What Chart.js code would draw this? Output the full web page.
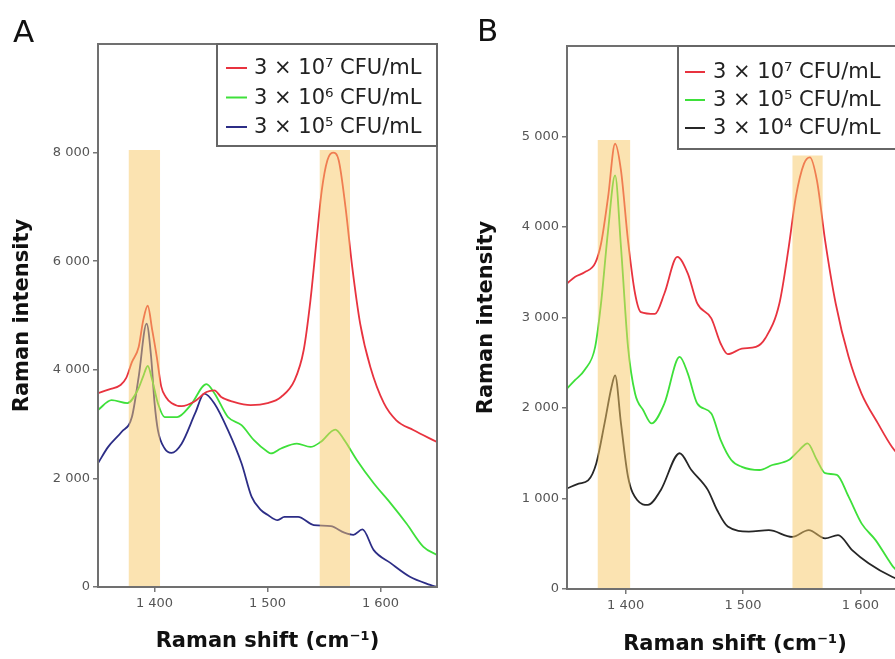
<!DOCTYPE html>
<html><head><meta charset="utf-8">
<script src="https://cdn.jsdelivr.net/npm/chart.js@4/dist/chart.umd.min.js"></script>
<style>
html,body{margin:0;padding:0;background:#fff;overflow:hidden;width:895px;height:659px;position:relative;}
#ca{position:absolute;left:0;top:0;width:445px;height:659px;}
#cb{position:absolute;left:445px;top:0;width:482px;height:659px;}
</style></head><body>
<canvas id="ca" width="445" height="659"></canvas>
<canvas id="cb" width="482" height="659"></canvas>
<script>
// ---------- data ----------
const shiftMin = 1350, shiftMax = 1650;
const xTicks = [1400, 1500, 1600];
const yTicksA = [0, 2000, 4000, 6000, 8000];
const yTicksB = [0, 1000, 2000, 3000, 4000, 5000];
const yMaxA = 10000, yMaxB = 6000;

const labelsA = ['3 × 10⁷ CFU/mL', '3 × 10⁶ CFU/mL', '3 × 10⁵ CFU/mL'];
const labelsB = ['3 × 10⁷ CFU/mL', '3 × 10⁵ CFU/mL', '3 × 10⁴ CFU/mL'];

// Panel A
const shiftA7 = [1350,1360,1370,1375,1380,1386,1390,1394,1398,1402,1406,1410,1415,1424,1435,1446,1453,1459,1470,1485,1500,1512,1524,1532,1538,1544,1548,1553,1558,1563,1569,1575,1582,1591,1603,1614,1629,1650];
const intA7   = [3570,3640,3720,3850,4140,4420,4910,5180,4730,4240,3690,3500,3390,3330,3410,3590,3620,3500,3410,3350,3385,3500,3810,4360,5280,6510,7300,7860,8000,7860,7000,5890,4850,4050,3385,3070,2890,2670];
const shiftA6 = [1350,1362,1376,1385,1390,1394,1398,1403,1409,1420,1432,1446,1453,1465,1477,1488,1500,1503,1512,1526,1538,1547,1560,1568,1579,1594,1609,1623,1638,1650];
const intA6   = [3260,3440,3385,3620,3880,4070,3810,3385,3130,3130,3350,3735,3570,3130,2980,2705,2490,2460,2550,2640,2580,2670,2900,2705,2340,1910,1540,1170,740,590];
const shiftA5 = [1350,1359,1371,1380,1386,1393,1397,1400,1403,1409,1415,1424,1436,1444,1453,1465,1477,1486,1494,1500,1509,1515,1527,1541,1556,1568,1576,1584,1594,1609,1626,1644,1650];
const intA5   = [2280,2580,2860,3130,3870,4850,4240,3400,2890,2550,2470,2640,3200,3560,3380,2890,2280,1660,1420,1330,1230,1290,1290,1140,1120,1000,960,1060,680,440,190,40,0];

// Panel B
const shiftB7 = [1350,1357,1365,1374,1379,1385,1391,1396,1402,1408,1413,1425,1433,1444,1453,1461,1473,1481,1487,1499,1511,1519,1531,1539,1545,1552,1557,1563,1570,1579,1590,1601,1615,1627,1640,1650];
const intB7   = [3375,3450,3500,3600,3815,4330,4920,4625,3850,3265,3060,3040,3265,3670,3485,3155,2990,2710,2595,2655,2675,2770,3155,3780,4330,4700,4770,4515,3850,3155,2565,2160,1830,1570,1380,1260];
const shiftB5 = [1350,1357,1365,1374,1379,1385,1391,1396,1402,1408,1415,1422,1433,1446,1453,1461,1473,1481,1490,1499,1514,1525,1539,1548,1555,1563,1570,1580,1590,1601,1613,1624,1628,1640,1650];
const intB5   = [2215,2310,2420,2675,3155,3960,4570,3780,2675,2160,1975,1830,2050,2565,2380,2050,1940,1645,1425,1350,1315,1370,1425,1535,1610,1425,1280,1260,1020,725,540,320,245,120,40];
const shiftB4 = [1350,1360,1368,1375,1382,1388,1391,1396,1402,1410,1419,1430,1446,1456,1470,1478,1487,1505,1522,1542,1556,1570,1581,1593,1607,1627,1650];
const intB4   = [1110,1165,1200,1390,1830,2235,2360,1830,1240,980,930,1095,1500,1315,1095,870,690,635,650,575,650,560,595,430,285,135,20];

// highlighted regions: [start, end, top]
const bandsA = [[1377,1405,8050],[1546,1573,8050]];
const bandsB = [[1376,1404,4960],[1542,1568,4790]];

// ---------- helpers ----------
const RED = '#e8333f', GREEN = '#3ee03a', NAVY = '#2c2d86', BLACK = '#262626';
const BAND = 'rgba(248,200,100,0.5)';
const fmt = v => String(v).replace(/\B(?=(\d{3})+(?!\d))/g, ' ');
const pts = (xs, ys) => xs.map((x, i) => ({x: x, y: ys[i]}));

function bandSets(bands) {
  return bands.map(b => ({
    data: [{x: b[0], y: b[2]}, {x: b[1], y: b[2]}],
    fill: 'origin', backgroundColor: BAND, borderWidth: 0, pointRadius: 0, isBand: true
  }));
}
function seriesSet(label, xs, ys, color) {
  return {label: label, data: pts(xs, ys), borderColor: color, backgroundColor: color,
          borderWidth: 1.8, pointRadius: 0, fill: false, cubicInterpolationMode: 'monotone', isSeries: true};
}

const decor = {
  id: 'decor',
  afterDraw(chart, args, o) {
    const ctx = chart.ctx, ca = chart.chartArea;
    ctx.save();
    // frame
    ctx.strokeStyle = '#707070'; ctx.lineWidth = 2;
    ctx.strokeRect(ca.left, ca.top, ca.right - ca.left, ca.bottom - ca.top);
    // legend box
    const x0 = ca.left + o.legOffset, y0 = ca.top;
    ctx.fillStyle = '#fff';
    ctx.fillRect(x0, y0, o.legWidth, o.legHeight);
    ctx.strokeStyle = '#666'; ctx.lineWidth = 2;
    ctx.strokeRect(x0, y0, o.legWidth, o.legHeight);
    ctx.font = '21px "DejaVu Sans"'; ctx.textBaseline = 'middle'; ctx.textAlign = 'left';
    chart.data.datasets.filter(d => d.isSeries).forEach((d, i) => {
      const yy = y0 + o.legFirst + i * o.legStep;
      ctx.strokeStyle = d.borderColor; ctx.lineWidth = 2;
      ctx.beginPath(); ctx.moveTo(x0 + o.legLine0, yy); ctx.lineTo(x0 + o.legLine1, yy); ctx.stroke();
      ctx.fillStyle = '#222';
      ctx.fillText(d.label, x0 + o.legText, yy + 1);
    });
    // axis titles
    ctx.fillStyle = '#111';
    ctx.font = 'bold 21px "DejaVu Sans"'; ctx.textAlign = 'center'; ctx.textBaseline = 'middle';
    ctx.fillText('Raman shift (cm⁻¹)', (ca.left + ca.right) / 2 + o.xTitleDx, ca.bottom + o.xTitleDy);
    ctx.save();
    ctx.translate(ca.left - o.yTitleDx, (ca.top + ca.bottom) / 2);
    ctx.rotate(-Math.PI / 2);
    ctx.fillText('Raman intensity', 0, 0);
    ctx.restore();
    // panel letter
    ctx.font = '31px "DejaVu Sans"'; ctx.textAlign = 'left'; ctx.textBaseline = 'alphabetic';
    ctx.fillStyle = '#111';
    ctx.fillText(o.letter, o.letterX, o.letterY);
    ctx.restore();
  }
};

function makeChart(id, datasets, yMax, yTicks, geo) {
  return new Chart(document.getElementById(id), {
    type: 'line',
    data: {datasets: datasets},
    plugins: [decor],
    options: {
      responsive: false, animation: false, events: [],
      layout: {padding: {top: geo.top, right: geo.right, left: 0, bottom: 0}},
      plugins: {legend: {display: false}, tooltip: {enabled: false}, decor: geo.decor},
      scales: {
        x: {
          type: 'linear', min: shiftMin, max: shiftMax,
          afterBuildTicks: s => { s.ticks = xTicks.map(v => ({value: v})); },
          afterFit: s => { s.height = geo.xH; },
          ticks: {callback: v => fmt(v), font: {family: 'DejaVu Sans', size: 13}, color: '#555', padding: 4, maxRotation: 0},
          grid: {drawOnChartArea: false, drawTicks: true, tickLength: 5, color: '#777', lineWidth: 1.5},
          border: {display: false}
        },
        y: {
          type: 'linear', min: 0, max: yMax,
          afterBuildTicks: s => { s.ticks = yTicks.map(v => ({value: v})); },
          afterFit: s => { s.width = geo.yW; },
          ticks: {callback: v => fmt(v), font: {family: 'DejaVu Sans', size: 13}, color: '#555', padding: 3},
          grid: {drawOnChartArea: false, drawTicks: true, tickLength: 5, color: '#777', lineWidth: 1.5},
          border: {display: false}
        }
      }
    }
  });
}

makeChart('ca',
  bandSets(bandsA).concat([
    seriesSet(labelsA[0], shiftA7, intA7, RED),
    seriesSet(labelsA[1], shiftA6, intA6, GREEN),
    seriesSet(labelsA[2], shiftA5, intA5, NAVY)
  ]),
  yMaxA, yTicksA,
  {top: 44, right: 8, xH: 72, yW: 98,
   decor: {legOffset: 119, legWidth: 220, legHeight: 102, legFirst: 24, legStep: 29.5,
           legLine0: 9, legLine1: 30, legText: 37,
           xTitleDx: 0, xTitleDy: 55, yTitleDx: 75, letter: 'A', letterX: 13, letterY: 42}});

makeChart('cb',
  bandSets(bandsB).concat([
    seriesSet(labelsB[0], shiftB7, intB7, RED),
    seriesSet(labelsB[1], shiftB5, intB5, GREEN),
    seriesSet(labelsB[2], shiftB4, intB4, BLACK)
  ]),
  yMaxB, yTicksB,
  {top: 46, right: 8, xH: 70, yW: 122,
   decor: {legOffset: 111, legWidth: 260, legHeight: 103, legFirst: 26, legStep: 28,
           legLine0: 7, legLine1: 27, legText: 35,
           xTitleDx: -8, xTitleDy: 56, yTitleDx: 80, letter: 'B', letterX: 32, letterY: 41}});
</script>
</body></html>
